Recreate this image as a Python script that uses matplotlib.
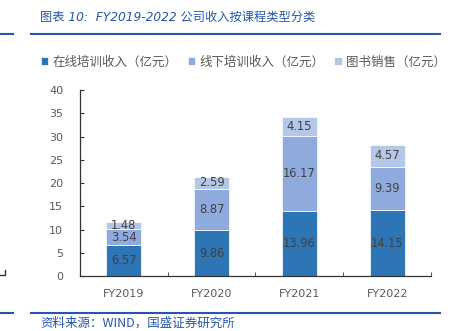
import matplotlib.pyplot as plt
import matplotlib.lines as mlines
import numpy as np

plt.rcParams['font.family'] = ['DejaVu Sans', 'Noto Sans CJK SC']

years = ['FY2019', 'FY2020', 'FY2021', 'FY2022']
online = [6.57, 9.86, 13.96, 14.15]
offline = [3.54, 8.87, 16.17, 9.39]
books = [1.48, 2.59, 4.15, 4.57]
series_names = ['在线培训收入（亿元）', '线下培训收入（亿元）', '图书销售（亿元）']
colors = ['#2E75B6', '#8FAADC', '#B4C7E7']

cjk = ['Noto Sans CJK SC', 'DejaVu Sans']
blue = '#2556A8'

fig = plt.figure(figsize=(4.51, 3.31), dpi=100)
ax = fig.add_axes([0.177, 0.166, 0.779, 0.562])

x = np.arange(len(years))
bottom = np.zeros(len(years))
for vals, col, name in zip([online, offline, books], colors, series_names):
    bars = ax.bar(x, vals, 0.4, bottom=bottom, color=col, edgecolor='white',
                  linewidth=0.5, label=name)
    for xi, b, v in zip(x, bottom, vals):
        ax.text(xi, b + v / 2, '%.2f' % v, ha='center', va='center',
                fontsize=8.3, color='#404040')
    bottom = bottom + np.array(vals)

ax.set_xlim(-0.5, 3.5)
ax.set_ylim(0, 40)
ax.set_yticks(range(0, 41, 5))
ax.set_xticks(x)
ax.set_xticklabels(years)
ax.set_xticks(np.arange(-0.5, 3.6, 1), minor=True)
ax.tick_params(axis='x', which='major', length=0, pad=9, labelsize=8, labelcolor='#595959')
ax.tick_params(axis='x', which='minor', direction='in', length=3, color='#333333')
ax.tick_params(axis='y', direction='in', length=3, pad=12, labelsize=8,
               labelcolor='#595959', color='#333333')
for s in ['top', 'right']:
    ax.spines[s].set_visible(False)
for s in ['left', 'bottom']:
    ax.spines[s].set_color('#333333')
    ax.spines[s].set_linewidth(0.9)

leg = ax.legend(loc='center', bbox_to_anchor=(0.54, 0.813), bbox_transform=fig.transFigure,
                ncol=3, frameon=False, prop={'family': cjk, 'size': 9},
                handlelength=0.6, handleheight=0.6, handletextpad=0.35,
                columnspacing=0.8, labelcolor='#595959')

# header / footer
fig.text(0.089, 0.948, '图表 10:  FY2019-2022 公司收入按课程类型分类', fontsize=8.8,
         style='italic', color=blue, family=['DejaVu Sans', 'Noto Sans CJK SC'],
         va='center')
fig.text(0.089, 0.025, '资料来源：WIND，国盛证券研究所', fontsize=9,
         style='italic', color=blue, family=cjk, va='center')
for yy in [1 - 34 / 331, 1 - 313 / 331]:
    fig.add_artist(mlines.Line2D([31 / 451, 440 / 451], [yy, yy], color=blue, lw=1.5))
    fig.add_artist(mlines.Line2D([0, 13 / 451], [yy, yy], color=blue, lw=1.5))
fig.add_artist(mlines.Line2D([0, 5 / 451, 5 / 451], [1 - 275 / 331, 1 - 275 / 331, 1 - 270 / 331],
                             color='#333333', lw=1))

fig.savefig('out.png', dpi=100)
